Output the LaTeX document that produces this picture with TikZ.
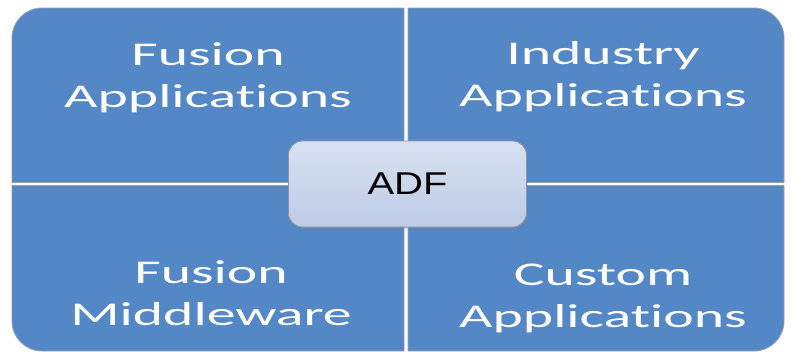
\documentclass[tikz,border=0pt]{standalone}
\usepackage{fontspec}
\usetikzlibrary{shadows}

\newfontfamily\tilefont[FakeStretch=1.74, RawFeature={-liga;-clig;-calt;-dlig}]{Carlito}
\newfontfamily\hubfont[FakeStretch=1.27]{Liberation Sans}

\definecolor{tileblue}{RGB}{83,135,198}
\definecolor{tileedge}{RGB}{150,158,172}
\definecolor{hubtop}{RGB}{216,225,241}
\definecolor{hubbottom}{RGB}{190,203,229}
\definecolor{hubedge}{RGB}{140,148,165}

\begin{document}
\begin{tikzpicture}[
    x=0.025cm, y=-0.025cm,
    tile/.style={fill=tileblue, draw=tileedge, line width=0.6pt},
    roundcorner/.style={rounded corners=0.75cm},
    tilelabel/.style={text=white, align=center, inner sep=0pt,
                      font=\tilefont\fontsize{23.6}{29.9}\selectfont},
    hub/.style={rounded corners=0.35cm, minimum width=5.95cm, minimum height=2.15cm,
                top color=hubtop, bottom color=hubbottom, draw=hubedge, line width=0.6pt,
                drop shadow={shadow xshift=0.8pt, shadow yshift=-1.2pt, opacity=0.45},
                font=\hubfont\fontsize{22.4}{26}\selectfont},
]
\useasboundingbox (0,0) rectangle (795,356);

% four tiles, only the outer corner is rounded
\draw[tile] (404,182.5) -- (404,8) [roundcorner] -- (12,8) [sharp corners] -- (12,182.5) -- cycle;
\draw[tile] (408,182.5) -- (408,8) [roundcorner] -- (784,8) [sharp corners] -- (784,182.5) -- cycle;
\draw[tile] (404,185.5) -- (404,351) [roundcorner] -- (12,351) [sharp corners] -- (12,185.5) -- cycle;
\draw[tile] (408,185.5) -- (408,351) [roundcorner] -- (784,351) [sharp corners] -- (784,185.5) -- cycle;

\node[tilelabel] (fusionapps) at (208,77.8) {Fusion\\Applications};
\node[tilelabel] (industryapps) at (603,76.8) {Industry\\Applications};
\node[tilelabel] (middleware) at (211,293) {Fusion\\Middleware};
\node[tilelabel] (customapps) at (603,298) {Custom\\Applications};

\node[hub] (adf) at (407.5,184) {ADF};

\end{tikzpicture}
\end{document}
